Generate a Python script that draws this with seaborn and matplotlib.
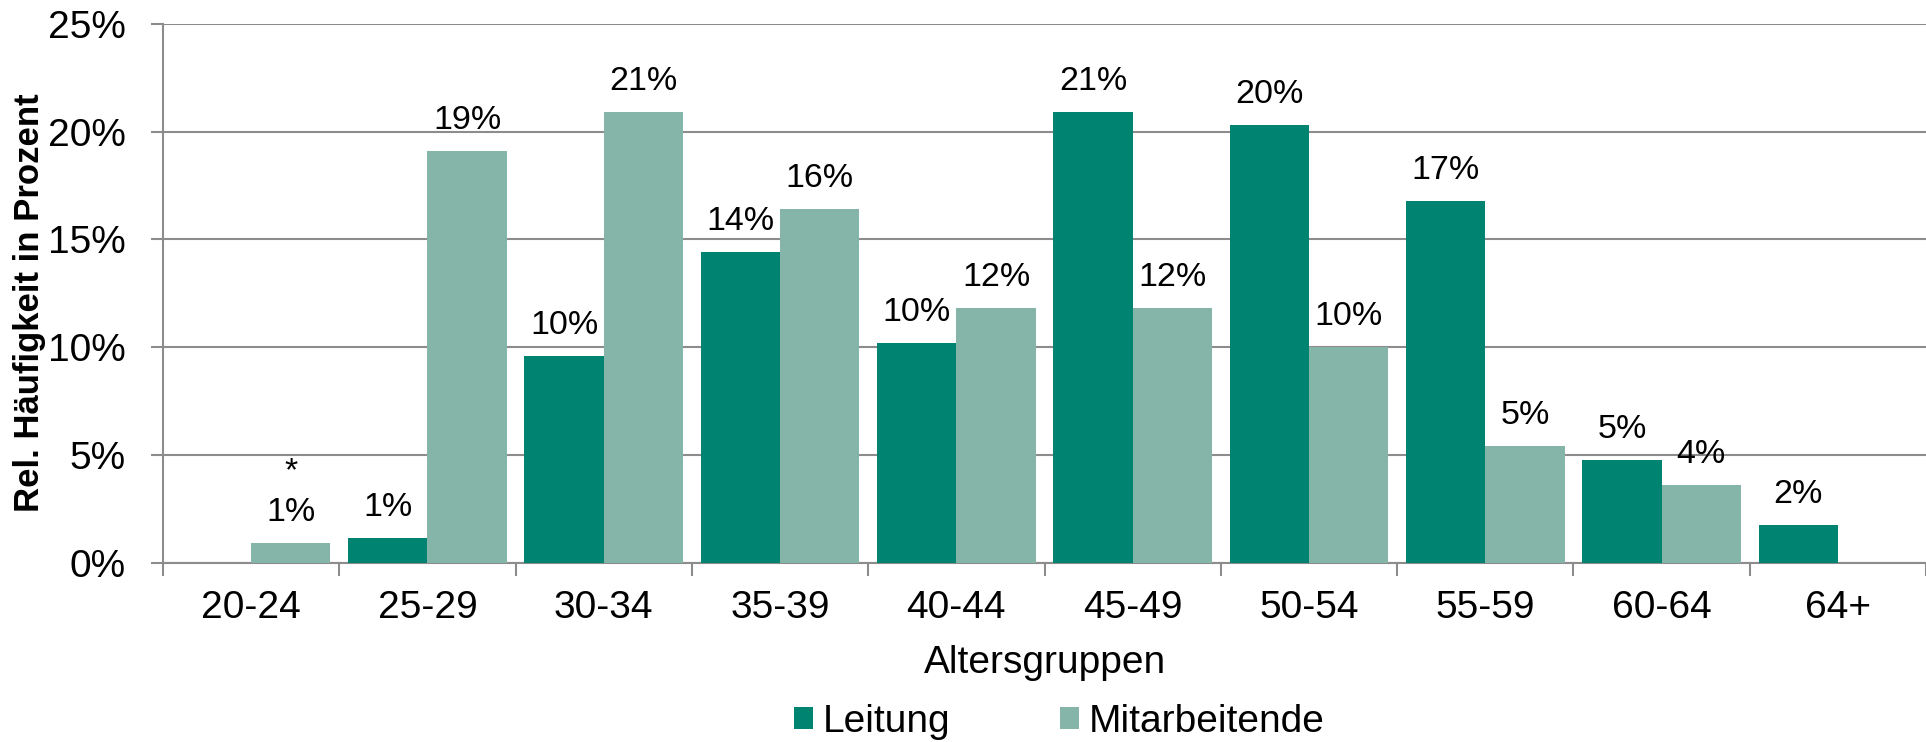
import numpy as np
import pandas as pd
import matplotlib
matplotlib.use("Agg")
import matplotlib.pyplot as plt
from matplotlib.patches import Patch
import seaborn as sns

# Age groups and relative frequencies (percent) per staff group
age_groups = ["20-24", "25-29", "30-34", "35-39", "40-44",
              "45-49", "50-54", "55-59", "60-64", "64+"]
leitung = [np.nan, 1.16, 9.6, 14.4, 10.2, 20.93, 20.3, 16.8, 4.75, 1.75]
mitarbeitende = [0.9, 19.1, 20.9, 16.4, 11.8, 11.8, 10.0, 5.42, 3.6, np.nan]
series_names = ["Leitung", "Mitarbeitende"]
# footnote markers attached to individual value labels
notes = {("Mitarbeitende", "20-24"): "*"}
y_ticks = [0, 5, 10, 15, 20, 25]

colors = {"Leitung": "#008471", "Mitarbeitende": "#85B5A8"}
grid_color = "#8c8c8c"

sns.set_theme(style="white")
plt.rcParams["font.family"] = ["Liberation Sans", "DejaVu Sans"]

df = pd.DataFrame({
    "Altersgruppe": age_groups * 2,
    "Gruppe": [series_names[0]] * len(age_groups) + [series_names[1]] * len(age_groups),
    "Wert": leitung + mitarbeitende,
})

fig = plt.figure(figsize=(19.26, 7.42), dpi=100)
ax = fig.add_axes([163 / 1926, 179.3 / 742, 1 - 163 / 1926, 538.7 / 742])

sns.barplot(data=df, x="Altersgruppe", y="Wert", hue="Gruppe",
            order=age_groups, hue_order=series_names, palette=colors,
            width=0.9, saturation=1, errorbar=None, legend=False, ax=ax,
            linewidth=0, zorder=3)

# value labels above each bar
values = {"Leitung": leitung, "Mitarbeitende": mitarbeitende}
for name, container in zip(series_names, ax.containers):
    for bar in container:
        h = bar.get_height()
        if h is None or np.isnan(h):
            continue
        xc = bar.get_x() + bar.get_width() / 2
        idx = int(round(xc))
        v = values[name][idx]
        label = f"{v:.0f}%"
        note = notes.get((name, age_groups[idx]))
        if note:
            label = f"{note}\n{label}"
        ax.annotate(label, xy=(xc, v), xytext=(0, 15), textcoords="offset pixels",
                    ha="center", va="bottom", fontsize=24.5, color="black",
                    linespacing=1.4, zorder=5)

ax.set_xlim(-0.5, (1926 - 163) / 177.3 - 0.5)
ax.set_ylim(0, 25)

# y axis: percent ticks with horizontal grid lines
ax.set_yticks(y_ticks)
ax.set_yticklabels([f"{t}%" for t in y_ticks])
ax.yaxis.grid(True, color=grid_color, linewidth=1.5)
ax.set_axisbelow(True)

# x axis: tick marks between categories, labels centred on categories
ax.set_xticks(np.arange(-0.5, len(age_groups), 1.0))
ax.set_xticklabels([])
ax.set_xticks(np.arange(len(age_groups)), minor=True)
ax.set_xticklabels(age_groups, minor=True)
ax.tick_params(axis="x", which="major", length=9, width=1.5, color=grid_color,
               direction="out", bottom=True)
ax.tick_params(axis="x", which="minor", length=0, pad=20, labelsize=28,
               labelcolor="black", bottom=True)
ax.tick_params(axis="y", which="major", length=9, width=1.5, color=grid_color,
               direction="out", left=True, pad=18, labelsize=28, labelcolor="black")

for side in ["top", "right"]:
    ax.spines[side].set_visible(False)
for side in ["left", "bottom"]:
    ax.spines[side].set_color(grid_color)
    ax.spines[side].set_linewidth(1.5)

ax.set_xlabel("Altersgruppen", fontsize=28, color="black")
ax.xaxis.set_label_coords(0.5, -0.152)
ax.set_ylabel("Rel. Häufigkeit in Prozent", fontsize=25, fontweight="bold",
              color="black", va="center")
ax.yaxis.set_label_coords(-0.0756, 0.482)

handles = [Patch(facecolor=colors[n], edgecolor="none") for n in series_names]
ax.legend(handles, series_names, loc="center", bbox_to_anchor=(0.55, 0.027),
          bbox_transform=fig.transFigure, ncol=2, frameon=False, fontsize=28,
          labelcolor="black",
          handlelength=0.49, handleheight=0.51, handletextpad=0.26,
          columnspacing=2.8, borderpad=0, borderaxespad=0)

fig.savefig("out.png", dpi=100)
